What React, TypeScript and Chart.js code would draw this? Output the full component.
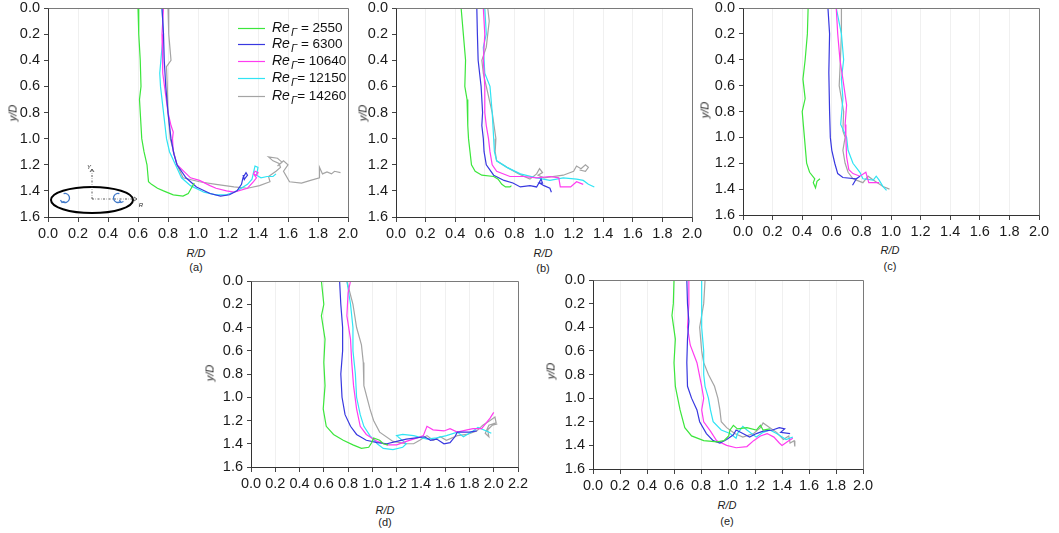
import React, { useEffect, useRef } from 'react';
import { Chart, registerables } from 'chart.js';
Chart.register(...registerables);

const FONT = '"Liberation Sans", Arial, sans-serif';
Chart.defaults.font.family = FONT;

const RE_VALUES = ['2550', '6300', '10640', '12150', '14260'];
const COLORS = ['#3ce63c', '#3838e0', '#ff3cf0', '#30e4f4', '#a4a4a4'];
const Y_MAX = 1.6;
const TICK_STEP = 0.2;

// ---- panel (a) : [R/D, y/D]
const a2550 = [[0.60,0],[0.605,0.2],[0.615,0.4],[0.62,0.6],[0.61,0.7],[0.615,0.8],[0.625,1.0],[0.64,1.1],[0.66,1.2],[0.67,1.33],[0.69,1.35],[0.73,1.38],[0.77,1.40],[0.835,1.43],[0.90,1.44],[0.935,1.42],[0.955,1.38],[0.97,1.35],[0.96,1.37],[0.975,1.34]];
const a6300 = [[0.76,0],[0.77,0.2],[0.775,0.4],[0.785,0.6],[0.80,0.8],[0.82,1.0],[0.84,1.12],[0.86,1.2],[0.92,1.3],[0.99,1.37],[1.08,1.42],[1.15,1.44],[1.21,1.43],[1.26,1.40],[1.29,1.35],[1.30,1.30],[1.32,1.26],[1.33,1.28],[1.31,1.31],[1.30,1.28],[1.31,1.32]];
const a10640 = [[0.77,0],[0.76,0.2],[0.765,0.5],[0.80,0.8],[0.82,0.9],[0.835,0.95],[0.83,1.0],[0.835,1.1],[0.86,1.2],[0.95,1.30],[1.01,1.32],[1.08,1.36],[1.12,1.38],[1.19,1.40],[1.24,1.41],[1.33,1.38],[1.37,1.33],[1.39,1.30],[1.37,1.27],[1.38,1.25],[1.40,1.26],[1.39,1.28],[1.37,1.27]];
const a12150 = [[0.76,0],[0.77,0.2],[0.76,0.3],[0.745,0.5],[0.75,0.6],[0.77,0.8],[0.79,1.0],[0.81,1.1],[0.85,1.2],[0.89,1.3],[0.95,1.36],[1.04,1.41],[1.12,1.43],[1.19,1.43],[1.26,1.40],[1.33,1.35],[1.36,1.31],[1.37,1.26],[1.38,1.21],[1.40,1.22],[1.39,1.28],[1.42,1.30],[1.46,1.29],[1.50,1.29],[1.52,1.27]];
const a14260 = [[0.80,0],[0.805,0.2],[0.82,0.4],[0.79,0.45],[0.795,0.6],[0.80,0.8],[0.815,1.0],[0.86,1.2],[0.90,1.3],[1.01,1.33],[1.12,1.35],[1.24,1.37],[1.33,1.38],[1.41,1.36],[1.48,1.33],[1.47,1.29],[1.52,1.25],[1.55,1.22],[1.54,1.19],[1.50,1.17],[1.47,1.14],[1.53,1.15],[1.56,1.18],[1.53,1.21],[1.57,1.17],[1.60,1.20],[1.57,1.25],[1.61,1.33],[1.69,1.34],[1.75,1.32],[1.81,1.30],[1.81,1.22],[1.83,1.27],[1.86,1.255],[1.89,1.27],[1.91,1.25],[1.95,1.26]];

// ---- panel (b)
const b2550 = [[0.44,0],[0.455,0.2],[0.47,0.4],[0.465,0.6],[0.48,0.7],[0.485,0.9],[0.49,1.0],[0.50,1.1],[0.51,1.2],[0.535,1.25],[0.58,1.28],[0.66,1.29],[0.69,1.31],[0.715,1.35],[0.74,1.37],[0.77,1.37],[0.78,1.36]];
const b6300 = [[0.546,0],[0.55,0.2],[0.555,0.4],[0.575,0.6],[0.585,0.8],[0.58,0.9],[0.59,1.0],[0.595,1.1],[0.61,1.2],[0.66,1.28],[0.73,1.32],[0.79,1.34],[0.84,1.37],[0.905,1.36],[0.95,1.37],[0.98,1.31],[0.99,1.34],[0.97,1.34],[1.0,1.36],[1.04,1.38],[1.05,1.41]];
const b10640 = [[0.59,0],[0.60,0.2],[0.59,0.4],[0.60,0.6],[0.60,0.8],[0.61,0.9],[0.625,1.0],[0.635,1.1],[0.65,1.2],[0.68,1.25],[0.77,1.29],[0.86,1.29],[0.95,1.30],[1.04,1.29],[1.10,1.30],[1.11,1.37],[1.18,1.37],[1.22,1.33],[1.265,1.35]];
const b12150 = [[0.60,0],[0.61,0.2],[0.59,0.3],[0.60,0.5],[0.635,0.6],[0.65,0.8],[0.66,1.0],[0.665,1.1],[0.68,1.17],[0.75,1.22],[0.84,1.27],[0.95,1.30],[1.04,1.32],[1.13,1.30],[1.22,1.31],[1.265,1.32],[1.30,1.35],[1.34,1.37]];
const b14260 = [[0.62,0],[0.63,0.1],[0.61,0.3],[0.58,0.4],[0.59,0.5],[0.61,0.6],[0.65,0.8],[0.675,1.0],[0.67,1.1],[0.68,1.17],[0.75,1.22],[0.83,1.27],[0.905,1.31],[0.95,1.27],[0.97,1.23],[0.99,1.26],[0.96,1.28],[1.0,1.30],[1.13,1.28],[1.20,1.25],[1.22,1.21],[1.25,1.23],[1.28,1.20],[1.30,1.22],[1.28,1.25],[1.24,1.24]];

// ---- panel (c)
const c2550 = [[0.44,0],[0.435,0.2],[0.42,0.4],[0.405,0.55],[0.42,0.7],[0.40,0.8],[0.415,1.0],[0.43,1.2],[0.45,1.27],[0.485,1.32],[0.475,1.35],[0.49,1.39],[0.50,1.34],[0.52,1.32]];
const c6300 = [[0.574,0],[0.585,0.2],[0.58,0.5],[0.585,0.8],[0.59,1.0],[0.60,1.1],[0.62,1.2],[0.64,1.28],[0.675,1.31],[0.766,1.32],[0.79,1.30],[0.766,1.32],[0.74,1.37]];
const c10640 = [[0.63,0],[0.64,0.2],[0.655,0.4],[0.675,0.55],[0.70,0.75],[0.69,0.9],[0.695,1.0],[0.70,1.15],[0.715,1.25],[0.743,1.28],[0.79,1.30],[0.83,1.27],[0.85,1.35],[0.92,1.35]];
const c12150 = [[0.63,0],[0.665,0.2],[0.68,0.4],[0.665,0.55],[0.675,0.7],[0.66,0.9],[0.70,1.0],[0.71,1.1],[0.743,1.2],[0.79,1.27],[0.81,1.32],[0.88,1.33],[0.90,1.30],[0.92,1.33],[0.946,1.38],[0.97,1.41]];
const c14260 = [[0.665,0],[0.665,0.2],[0.658,0.4],[0.65,0.6],[0.68,0.8],[0.675,0.95],[0.69,1.0],[0.675,1.1],[0.69,1.2],[0.71,1.27],[0.743,1.32],[0.81,1.35],[0.845,1.30],[0.88,1.33],[0.946,1.38],[0.99,1.40]];

// ---- panel (d)
const d2550 = [[0.58,0],[0.60,0.2],[0.58,0.3],[0.61,0.5],[0.60,0.7],[0.61,0.9],[0.595,1.1],[0.62,1.25],[0.68,1.32],[0.76,1.37],[0.84,1.41],[0.91,1.44],[0.97,1.43],[0.995,1.39],[1.01,1.35],[1.06,1.37],[1.09,1.40],[1.13,1.41]];
const d6300 = [[0.73,0],[0.74,0.2],[0.755,0.4],[0.755,0.6],[0.74,0.8],[0.75,1.0],[0.775,1.15],[0.82,1.25],[0.87,1.32],[0.95,1.37],[1.04,1.39],[1.12,1.40],[1.20,1.38],[1.28,1.36],[1.36,1.35],[1.43,1.34],[1.48,1.37],[1.53,1.36],[1.59,1.40],[1.64,1.39],[1.68,1.34],[1.70,1.30],[1.80,1.30],[1.86,1.29]];
const d10640 = [[0.82,0],[0.80,0.1],[0.79,0.3],[0.82,0.5],[0.83,0.7],[0.845,0.9],[0.87,1.1],[0.90,1.25],[0.95,1.32],[1.04,1.38],[1.12,1.41],[1.20,1.41],[1.28,1.38],[1.37,1.35],[1.42,1.33],[1.45,1.25],[1.50,1.28],[1.59,1.29],[1.64,1.27],[1.70,1.30],[1.78,1.28],[1.83,1.27],[1.90,1.27],[1.97,1.18],[2.00,1.13]];
const d12150 = [[0.79,0],[0.82,0.2],[0.84,0.4],[0.84,0.6],[0.86,0.8],[0.87,1.0],[0.90,1.15],[0.93,1.25],[0.98,1.33],[1.04,1.40],[1.09,1.44],[1.17,1.45],[1.25,1.43],[1.28,1.40],[1.20,1.33],[1.25,1.32],[1.34,1.33],[1.45,1.36],[1.53,1.35],[1.61,1.33],[1.70,1.30],[1.75,1.34],[1.83,1.29],[1.87,1.26],[1.94,1.29],[1.98,1.31]];
const d14260 = [[0.79,0],[0.84,0.2],[0.87,0.4],[0.91,0.55],[0.925,0.7],[0.93,0.9],[0.98,1.1],[1.01,1.2],[1.06,1.30],[1.17,1.38],[1.28,1.40],[1.34,1.40],[1.39,1.37],[1.45,1.33],[1.50,1.37],[1.56,1.34],[1.61,1.37],[1.70,1.33],[1.78,1.32],[1.86,1.29],[1.91,1.24],[1.97,1.20],[2.01,1.17],[2.02,1.22],[1.96,1.24],[1.93,1.31],[1.96,1.34],[1.95,1.28],[1.99,1.24],[2.03,1.23]];

// ---- panel (e)
const e2550 = [[0.60,0],[0.595,0.2],[0.585,0.3],[0.61,0.5],[0.60,0.7],[0.61,0.9],[0.645,1.1],[0.68,1.25],[0.73,1.32],[0.82,1.36],[0.92,1.37],[0.97,1.36],[1.005,1.32],[1.015,1.27],[1.04,1.23],[1.07,1.26],[1.14,1.25],[1.21,1.27],[1.24,1.23],[1.26,1.27],[1.31,1.26]];
const e6300 = [[0.695,0],[0.70,0.2],[0.71,0.35],[0.70,0.5],[0.695,0.7],[0.70,0.9],[0.73,1.0],[0.77,1.1],[0.79,1.2],[0.84,1.3],[0.89,1.36],[0.94,1.38],[0.99,1.35],[1.04,1.31],[1.06,1.27],[1.11,1.30],[1.16,1.33],[1.21,1.30],[1.26,1.28],[1.33,1.27],[1.38,1.25],[1.42,1.26],[1.39,1.29],[1.46,1.30]];
const e10640 = [[0.71,0],[0.71,0.2],[0.70,0.4],[0.72,0.55],[0.77,0.7],[0.805,0.9],[0.82,1.0],[0.805,1.1],[0.82,1.2],[0.87,1.28],[0.915,1.36],[0.99,1.40],[1.06,1.42],[1.14,1.41],[1.19,1.36],[1.24,1.32],[1.29,1.30],[1.34,1.33],[1.38,1.38],[1.40,1.40],[1.45,1.36],[1.48,1.34]];
const e12150 = [[0.805,0],[0.805,0.2],[0.805,0.4],[0.82,0.6],[0.82,0.8],[0.83,0.9],[0.855,1.0],[0.87,1.1],[0.89,1.2],[0.95,1.27],[1.015,1.30],[1.06,1.34],[1.07,1.30],[1.11,1.24],[1.14,1.27],[1.21,1.33],[1.26,1.29],[1.31,1.27],[1.36,1.30],[1.43,1.35],[1.48,1.33]];
const e14260 = [[0.83,0],[0.82,0.2],[0.79,0.4],[0.805,0.6],[0.82,0.7],[0.855,0.8],[0.90,0.9],[0.925,1.0],[0.94,1.1],[0.95,1.2],[0.99,1.25],[1.05,1.3],[1.11,1.33],[1.19,1.30],[1.24,1.25],[1.26,1.21],[1.31,1.25],[1.36,1.29],[1.41,1.35],[1.45,1.32],[1.46,1.38],[1.49,1.36],[1.495,1.41]];

type Pt = number[];
interface Panel {
  tag: string;
  cLeft: number; cTop: number; cW: number; cH: number;
  area: { l: number; t: number; r: number; b: number };
  xMax: number;
  series: Pt[][];
  legend?: boolean;
  inset?: boolean;
  yTitle: [number, number];
  xTitle: [number, number];
  tagPos: [number, number];
}

const PANELS: Panel[] = [
  { tag: '(a)', cLeft: 0, cTop: 0, cW: 360, cH: 245, area: { l: 48, t: 8, r: 348, b: 217 }, xMax: 2.0,
    series: [a2550, a6300, a10640, a12150, a14260], legend: true, inset: true,
    yTitle: [13, 113], xTitle: [196, 253], tagPos: [196, 267] },
  { tag: '(b)', cLeft: 360, cTop: 0, cW: 345, cH: 245, area: { l: 396, t: 8, r: 692, b: 217 }, xMax: 2.0,
    series: [b2550, b6300, b10640, b12150, b14260],
    yTitle: [363, 113], xTitle: [543, 253], tagPos: [543, 268] },
  { tag: '(c)', cLeft: 705, cTop: 0, cW: 354, cH: 243, area: { l: 743, t: 8, r: 1039, b: 215 }, xMax: 2.0,
    series: [c2550, c6300, c10640, c12150, c14260],
    yTitle: [705, 110], xTitle: [890, 250], tagPos: [890, 266] },
  { tag: '(d)', cLeft: 215, cTop: 270, cW: 320, cH: 225, area: { l: 251, t: 281, r: 518, b: 467 }, xMax: 2.2,
    series: [d2550, d6300, d10640, d12150, d14260],
    yTitle: [210, 373], xTitle: [385, 510], tagPos: [385, 522] },
  { tag: '(e)', cLeft: 555, cTop: 270, cW: 330, cH: 227, area: { l: 593, t: 280, r: 863, b: 469 }, xMax: 2.0,
    series: [e2550, e6300, e10640, e12150, e14260],
    yTitle: [551, 371], xTitle: [727, 505], tagPos: [727, 521] },
];

const framePlugin = {
  id: 'frame',
  afterDraw(chart: any) {
    const { ctx, chartArea } = chart;
    const l = Math.round(chartArea.left) + 0.5;
    const t = Math.round(chartArea.top) + 0.5;
    const r = Math.round(chartArea.right) + 0.5;
    const b = Math.round(chartArea.bottom) + 0.5;
    ctx.save();
    ctx.strokeStyle = '#7a7a7a';
    ctx.lineWidth = 1;
    ctx.beginPath();
    ctx.moveTo(l, t); ctx.lineTo(r, t); ctx.lineTo(r, b);
    ctx.stroke();
    ctx.restore();
  },
};

const legendPlugin = {
  id: 'reLegend',
  afterDraw(chart: any) {
    const { ctx } = chart;
    const rows = [28, 44, 61, 78, 96];
    ctx.save();
    RE_VALUES.forEach((v, i) => {
      const y = rows[i];
      ctx.strokeStyle = COLORS[i];
      ctx.lineWidth = 1.2;
      ctx.beginPath();
      ctx.moveTo(238, y + 0.5); ctx.lineTo(265, y + 0.5);
      ctx.stroke();
      ctx.fillStyle = '#111';
      ctx.textBaseline = 'middle';
      ctx.textAlign = 'left';
      ctx.font = `italic 14px ${FONT}`;
      ctx.fillText('Re', 272, y);
      const w1 = ctx.measureText('Re').width;
      ctx.font = `italic 11px ${FONT}`;
      ctx.fillText('\u0393', 272 + w1 + 1, y + 5);
      const w2 = ctx.measureText('\u0393').width;
      ctx.font = `13.5px ${FONT}`;
      ctx.fillText(v.length > 4 ? '= ' + v : ' = ' + v, 272 + w1 + w2 + 1, y);
    });
    ctx.restore();
  },
};

const insetPlugin = {
  id: 'inset',
  afterDraw(chart: any) {
    const { ctx } = chart;
    ctx.save();
    ctx.strokeStyle = '#000';
    ctx.lineWidth = 2;
    ctx.beginPath();
    ctx.ellipse(92, 200, 41, 13, 0, 0, Math.PI * 2);
    ctx.stroke();
    ctx.lineWidth = 0.8;
    ctx.strokeStyle = '#333';
    ctx.setLineDash([2, 1.5, 0.5, 1.5]);
    ctx.beginPath();
    ctx.moveTo(92, 199); ctx.lineTo(92, 170);
    ctx.moveTo(92, 199); ctx.lineTo(136, 199);
    ctx.stroke();
    ctx.setLineDash([]);
    ctx.beginPath();
    ctx.moveTo(90, 172); ctx.lineTo(92, 169); ctx.lineTo(94, 172);
    ctx.moveTo(134, 197); ctx.lineTo(137, 199); ctx.lineTo(134, 201);
    ctx.stroke();
    ctx.fillStyle = '#222';
    ctx.font = `italic 6px ${FONT}`;
    ctx.textAlign = 'center';
    ctx.textBaseline = 'middle';
    ctx.fillText('Y', 89, 167);
    ctx.fillText('R', 141, 205);
    ctx.strokeStyle = '#3f78c8';
    ctx.lineWidth = 1.3;
    const arrow = (cx: number, cy: number, flip: boolean) => {
      ctx.beginPath();
      if (!flip) ctx.arc(cx, cy, 4.5, -Math.PI * 0.6, Math.PI * 0.7);
      else ctx.arc(cx, cy, 4.5, Math.PI * 1.6, Math.PI * 0.3, true);
      ctx.stroke();
      const ax = flip ? cx + 3 : cx - 3;
      ctx.beginPath();
      ctx.moveTo(ax - 1.5, cy + 2); ctx.lineTo(ax, cy + 4.5); ctx.lineTo(ax + 2.5, cy + 3.5);
      ctx.stroke();
    };
    arrow(65, 198, false);
    arrow(118, 198, true);
    ctx.restore();
  },
};

const fmt = (v: any) => Number(v).toFixed(1);

function PanelChart({ p }: { p: Panel }) {
  const ref = useRef<HTMLCanvasElement>(null);
  useEffect(() => {
    if (!ref.current) return;
    const plugins: any[] = [framePlugin];
    if (p.legend) plugins.push(legendPlugin);
    if (p.inset) plugins.push(insetPlugin);
    const chart = new Chart(ref.current, {
      type: 'scatter',
      data: {
        datasets: p.series.map((s, i) => ({
          label: 'Re = ' + RE_VALUES[i],
          data: s.map(([x, y]) => ({ x, y })),
          showLine: true,
          borderColor: COLORS[i],
          backgroundColor: COLORS[i],
          borderWidth: 1.2,
          pointRadius: 0,
          tension: 0,
        })),
      },
      options: {
        responsive: false,
        animation: false,
        devicePixelRatio: 1,
        layout: { padding: { left: 0, top: p.area.t - p.cTop, right: p.cLeft + p.cW - p.area.r, bottom: 0 } },
        plugins: { legend: { display: false }, tooltip: { enabled: false } },
        scales: {
          x: {
            type: 'linear', min: 0, max: p.xMax,
            ticks: { stepSize: TICK_STEP, callback: fmt, font: { size: 14.5 }, color: '#1a1a1a', padding: 3, maxRotation: 0, autoSkip: false },
            grid: { color: '#f0f0f0', tickColor: '#444', tickLength: 5, drawOnChartArea: true },
            border: { color: '#333' },
            afterFit: (s: any) => { s.height = p.cTop + p.cH - p.area.b; s.paddingLeft = 0; s.paddingRight = 0; },
          },
          y: {
            type: 'linear', reverse: true, min: 0, max: Y_MAX,
            ticks: { stepSize: TICK_STEP, callback: fmt, font: { size: 14.5 }, color: '#1a1a1a', padding: 4 },
            grid: { drawOnChartArea: false, tickColor: '#444', tickLength: 4 },
            border: { color: '#333' },
            afterFit: (s: any) => { s.width = p.area.l - p.cLeft; s.paddingTop = 0; s.paddingBottom = 0; },
          },
        },
      } as any,
      plugins,
    });
    return () => chart.destroy();
  }, []);
  return (
    <canvas ref={ref} width={p.cW} height={p.cH}
      style={{ position: 'absolute', left: p.cLeft, top: p.cTop, width: p.cW, height: p.cH }} />
  );
}

function Text({ x, y, children, rotate, italic }: any) {
  return (
    <div style={{
      position: 'absolute', left: x, top: y, transform: `translate(-50%, -50%)${rotate ? ' rotate(-90deg)' : ''}`,
      fontFamily: FONT, fontSize: 11, fontStyle: italic ? 'italic' : 'normal', color: '#222', whiteSpace: 'nowrap', lineHeight: 1,
    }}>{children}</div>
  );
}

export default function App() {
  return (
    <div style={{ position: 'absolute', left: 0, top: 0, width: 1059, height: 533, background: '#fff', overflow: 'hidden' }}>
      {PANELS.map((p) => (
        <React.Fragment key={p.tag}>
          <PanelChart p={p} />
          <Text x={p.yTitle[0]} y={p.yTitle[1]} rotate italic>y/D</Text>
          <Text x={p.xTitle[0]} y={p.xTitle[1]} italic>R/D</Text>
          <Text x={p.tagPos[0]} y={p.tagPos[1]}>{p.tag}</Text>
        </React.Fragment>
      ))}
    </div>
  );
}
